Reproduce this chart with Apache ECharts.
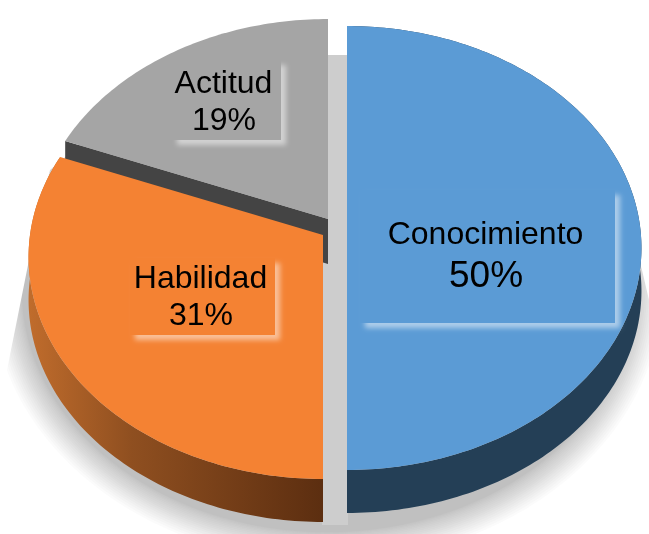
<!DOCTYPE html>
<html><head><meta charset="utf-8">
<style>html,body{margin:0;padding:0;background:#fff}#c{width:649px;height:534px}</style>
<script src="https://cdn.jsdelivr.net/npm/echarts@6/dist/echarts.min.js"></script>
</head><body><div id="c"></div>
<script>
const categories = ['Conocimiento', 'Habilidad', 'Actitud'];
const values = [50, 31, 19];
const topColors = ['#5b9bd5', '#f48233', '#a5a5a5'];
const apexes = [[347, 226], [323, 235], [328, 219]];
const labelCentres = [[485.5, 235, 486, 277], [200.5, 279, 201, 316], [223.5, 84, 224, 121]];
const labelBoxes = [[360, 190, 255, 133], [130, 258, 145, 77], [172, 60, 109, 80]];
const pctSizes = [37, 32, 32];
const RX = 293, RY = 219.8, K = 0.0991, DEPTH = 43;

const chart = echarts.init(document.getElementById('c'));
const total = values.reduce((a, b) => a + b, 0);
const starts = values.map((_, i) => values.slice(0, i).reduce((a, b) => a + b, 0) / total * 2 * Math.PI);

function proj(apex, t, dy) {
  const w = 1 + K * Math.cos(t);
  return [apex[0] + RX * Math.sin(t) / w, apex[1] - RY * Math.cos(t) / w + (dy || 0)];
}
function arc(apex, a, b, dy) {
  const n = Math.max(2, Math.ceil((b - a) / (Math.PI / 180)));
  const pts = [];
  for (let i = 0; i <= n; i++) pts.push(proj(apex, a + (b - a) * i / n, dy));
  return pts;
}

function renderSlice(params, api) {
  const i = api.value(0);
  const a = starts[i], b = a + values[i] / total * 2 * Math.PI;
  const apex = apexes[i];
  const z = [30, 20, 10][i];
  const top = arc(apex, a, b, 0);
  const children = [];
  if (i === 0 || i === 1) {
    const strip = top.concat(arc(apex, a, b, DEPTH).reverse());
    const fill = i === 0 ? '#243f56' : new echarts.graphic.LinearGradient(0, 0, 1, 0, [
      { offset: 0, color: '#c06c2c' }, { offset: 0.35, color: '#8f4f20' }, { offset: 1, color: '#5c2e10' }
    ]);
    children.push({ type: 'polygon', z2: z, shape: { points: strip }, style: { fill: fill } });
  } else {
    const corner = top[0];
    const wall = [apex, corner, [corner[0], corner[1] + DEPTH], [apex[0], apex[1] + DEPTH + 2]];
    children.push({ type: 'polygon', z2: z, shape: { points: wall }, style: { fill: '#444444' } });
  }
  children.push({ type: 'polygon', z2: z + 1, shape: { points: [apex].concat(top) }, style: { fill: topColors[i] } });
  const box = labelBoxes[i];
  children.push({
    type: 'rect', z2: z + 2,
    shape: { x: box[0], y: box[1], width: box[2], height: box[3] },
    style: { fill: topColors[i], shadowBlur: 5, shadowOffsetX: 5, shadowOffsetY: 5, shadowColor: 'rgba(255,255,255,0.5)' }
  });
  const c = labelCentres[i];
  children.push({
    type: 'text', z2: z + 3,
    style: { text: categories[i], x: c[0], y: c[1], align: 'center', verticalAlign: 'middle', fill: '#000',
      font: '32px "Liberation Sans", Arial, sans-serif' }
  });
  children.push({
    type: 'text', z2: z + 3,
    style: { text: values[i] + '%', x: c[2], y: c[3], align: 'center', verticalAlign: 'middle', fill: '#000',
      font: pctSizes[i] + 'px "Liberation Sans", Arial, sans-serif' }
  });
  return { type: 'group', children: children };
}

// soft drop shadow: stacked translucent ellipses, masked above the pie's upper rim
const shadowLayers = [];
const LAYERS = 18;
for (let s = 0; s < LAYERS; s++) {
  const grow = 30 * Math.pow(s / (LAYERS - 1), 1.3);
  shadowLayers.push({
    type: 'ellipse', z: 0, silent: true,
    shape: { cx: 327, cy: 290, rx: 305 + grow, ry: 242 + grow },
    style: { fill: 'rgba(120,120,120,0.027)' }
  });
}

chart.setOption({
  animation: false,
  backgroundColor: '#fff',
  graphic: { elements: shadowLayers.concat([
    { type: 'polygon', z: 1, silent: true,
      shape: { points: [[0, 0], [0, 385], [6, 375], [28, 265], [50, 170], [150, 85], [328, 55], [348, 55], [348, 0]] },
      style: { fill: '#fff' } },
    { type: 'polygon', z: 1, silent: true,
      shape: { points: [[347, 0], [649, 0], [649, 300], [642, 270], [600, 130], [347, 55]] },
      style: { fill: '#fff' } },
    { type: 'rect', z: 2, silent: true,
      shape: { x: 322, y: 55, width: 26, height: 470 }, style: { fill: '#cdcdcd', opacity: 1 } }
  ]) },
  series: [{
    type: 'custom', coordinateSystem: 'none', z: 5, silent: true,
    renderItem: renderSlice,
    data: categories.map((_, i) => [i])
  }]
});
</script></body></html>
